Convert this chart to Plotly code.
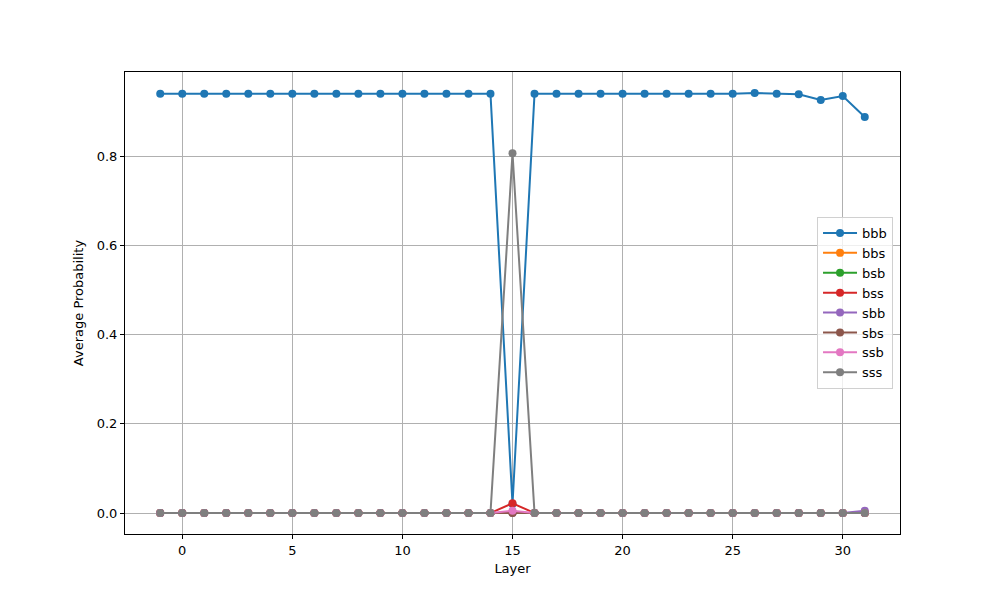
import plotly.graph_objects as go

# layer index (-1 = embeddings)
layers = list(range(-1, 32))

# average probability per pattern, layers -1 .. 31
bbb = [0.940, 0.940, 0.940, 0.940, 0.940, 0.940, 0.940, 0.940, 0.940, 0.940, 0.940,
       0.940, 0.940, 0.940, 0.940, 0.940, 0.020, 0.940, 0.940, 0.940, 0.940, 0.940,
       0.940, 0.940, 0.940, 0.940, 0.940, 0.942, 0.940, 0.939, 0.926, 0.935, 0.888]
bbs = [0.000, 0.000, 0.000, 0.000, 0.000, 0.000, 0.000, 0.000, 0.000, 0.000, 0.000,
       0.000, 0.000, 0.000, 0.000, 0.000, 0.001, 0.000, 0.000, 0.000, 0.000, 0.000,
       0.000, 0.000, 0.000, 0.000, 0.000, 0.000, 0.000, 0.000, 0.000, 0.000, 0.000]
bsb = [0.000, 0.000, 0.000, 0.000, 0.000, 0.000, 0.000, 0.000, 0.000, 0.000, 0.000,
       0.000, 0.000, 0.000, 0.000, 0.000, 0.001, 0.000, 0.000, 0.000, 0.000, 0.000,
       0.000, 0.000, 0.000, 0.000, 0.000, 0.000, 0.000, 0.000, 0.000, 0.000, 0.000]
bss = [0.000, 0.000, 0.000, 0.000, 0.000, 0.000, 0.000, 0.000, 0.000, 0.000, 0.000,
       0.000, 0.000, 0.000, 0.000, 0.000, 0.022, 0.000, 0.000, 0.000, 0.000, 0.000,
       0.000, 0.000, 0.000, 0.000, 0.000, 0.000, 0.000, 0.000, 0.000, 0.000, 0.000]
sbb = [0.000, 0.000, 0.000, 0.000, 0.000, 0.000, 0.000, 0.000, 0.000, 0.000, 0.000,
       0.000, 0.000, 0.000, 0.000, 0.000, 0.000, 0.000, 0.000, 0.000, 0.000, 0.000,
       0.000, 0.000, 0.000, 0.000, 0.000, 0.000, 0.000, 0.000, 0.000, 0.000, 0.005]
sbs = [0.000, 0.000, 0.000, 0.000, 0.000, 0.000, 0.000, 0.000, 0.000, 0.000, 0.000,
       0.000, 0.000, 0.000, 0.000, 0.000, 0.000, 0.000, 0.000, 0.000, 0.000, 0.000,
       0.000, 0.000, 0.000, 0.000, 0.000, 0.000, 0.000, 0.000, 0.000, 0.000, 0.000]
ssb = [0.000, 0.000, 0.000, 0.000, 0.000, 0.000, 0.000, 0.000, 0.000, 0.000, 0.000,
       0.000, 0.000, 0.000, 0.000, 0.000, 0.005, 0.000, 0.000, 0.000, 0.000, 0.000,
       0.000, 0.000, 0.000, 0.000, 0.000, 0.000, 0.000, 0.000, 0.000, 0.000, 0.000]
sss = [0.000, 0.000, 0.000, 0.000, 0.000, 0.000, 0.000, 0.000, 0.000, 0.000, 0.000,
       0.000, 0.000, 0.000, 0.000, 0.000, 0.807, 0.000, 0.000, 0.000, 0.000, 0.000,
       0.000, 0.000, 0.000, 0.000, 0.000, 0.000, 0.000, 0.000, 0.000, 0.000, 0.000]

series = {"bbb": bbb, "bbs": bbs, "bsb": bsb, "bss": bss,
          "sbb": sbb, "sbs": sbs, "ssb": ssb, "sss": sss}
colors = ["#1f77b4", "#ff7f0e", "#2ca02c", "#d62728",
          "#9467bd", "#8c564b", "#e377c2", "#7f7f7f"]

fig = go.Figure()
for (name, vals), c in zip(series.items(), colors):
    fig.add_trace(go.Scatter(x=layers, y=vals, mode="lines+markers", name=name,
                             line=dict(color=c, width=2),
                             marker=dict(color=c, size=8)))

axis_style = dict(showline=True, linecolor="black", linewidth=1, mirror=True,
                  ticks="outside", ticklen=4, tickcolor="black",
                  showgrid=True, gridcolor="#b0b0b0", gridwidth=1, zeroline=False,
                  title_font=dict(size=13, color="black"))

# page body adds an 8px offset, so margins are trimmed to compensate
fig.update_layout(
    width=1000, height=600,
    margin=dict(l=117, r=108, t=64, b=74),
    paper_bgcolor="white", plot_bgcolor="white",
    font=dict(family="DejaVu Sans", size=13, color="black"),
    showlegend=True,
    legend=dict(x=0.991, y=0.50, xanchor="right", yanchor="middle",
                bgcolor="rgba(255,255,255,0.8)", bordercolor="#d0d0d0", borderwidth=1,
                font=dict(size=13), itemwidth=34),
)
fig.update_xaxes(range=[-2.6, 32.6], tickvals=[0, 5, 10, 15, 20, 25, 30],
                 title_text="Layer", title_standoff=7, **axis_style)
fig.update_yaxes(range=[-0.047, 0.989], tickvals=[0.0, 0.2, 0.4, 0.6, 0.8],
                 tickformat=".1f", title_text="Average Probability", title_standoff=10,
                 **axis_style)

fig.write_html("out.html")
